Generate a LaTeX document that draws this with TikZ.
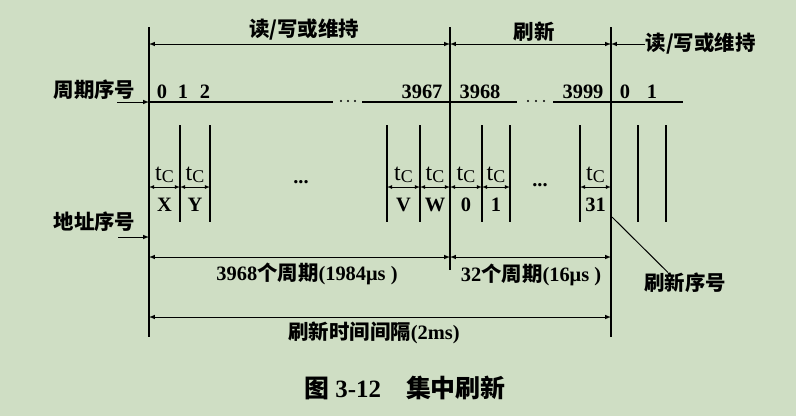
\documentclass[tikz,border=0pt]{standalone}
\usepackage{fontspec}
\setmainfont{Liberation Serif}
\newfontfamily\cjk{Noto Sans CJK SC}
\usetikzlibrary{calc}
\definecolor{paper}{RGB}{207,222,196}

\begin{document}
\begin{tikzpicture}[x=1bp,y=-1bp,line width=1.3pt,
        span/.style={line width=1pt,-latex},
        both/.style={line width=1pt,latex-latex},
        lbl/.style={font=\fontsize{20.5}{20.5}\selectfont\bfseries\cjk,inner sep=0pt},
        num/.style={font=\fontsize{20.5}{20.5}\selectfont\bfseries,inner sep=0pt},
        tclbl/.style={font=\fontsize{24}{24}\selectfont,inner sep=0pt}]
            \fill[paper] (0,0) rectangle (796,416);
            \useasboundingbox (0,0) rectangle (796,416);

            % main time marks
            \coordinate (m0) at (149,27);
            \coordinate (m1) at (450,27);
            \coordinate (m2) at (611,27);
            \draw (m0) -- ++(0,310);
            \draw (m1) -- ++(0,243);
            \draw (m2) -- ++(0,310);

            % top spans
            \node[lbl] (rw1) at (304,30) {读/写或维持};
            \node[lbl] (rf) at (534,32) {刷新};
            \node[lbl,anchor=west] (rw2) at (645,44) {读/写或维持};
            \draw[both] ($(m0)+(0,17)$) -- ($(m1)+(0,17)$);
            \draw[both] ($(m1)+(0,17)$) -- ($(m2)+(0,17)$);
            \draw[span] (rw2.west) -- (rw2.west -| m2);

            % cycle numbers
            \node[lbl,anchor=east] (cyc) at (136,90) {周期序号};
            \coordinate (s0) at (117,102);
            \draw[span] (s0) -- (s0 -| m0);
            \draw (s0 -| m0) -- (333,102);
            \draw (362,102) -- (517,102);
            \draw (553,102) -- (683,102);
            \foreach \x in {341,348,355,528,536,544} \fill (\x,101) circle (1.1pt);
            \foreach \x/\t [count=\i] in {162/0,183/1,205/2,422/3967,480/3968,583/3999,625/0,652/1}
                \node[num,anchor=base] (cn\i) at (\x,98) {\t};

            % cycle slots
            \foreach \x in {180,210,387,420,482,510,580,638,666}
                \draw (\x,125) -- (\x,222);
            \foreach \a/\b/\s [count=\i] in {149/180/X,180/210/Y,387/420/V,420/450/W,450/482/0,482/510/1,580/611/31} {
                \coordinate (cl\i) at (\a,187);
                \coordinate (cr\i) at (\b,187);
                \draw[both,line width=0.8pt] (cl\i) -- (cr\i);
                \node[tclbl,anchor=base] (tc\i) at ($(cl\i)!0.5!(cr\i)+(0,-7)$) {t\raisebox{-2.5pt}{\fontsize{18}{18}\selectfont C}};
                \node[num] (ad\i) at ($(cl\i)!0.5!(cr\i)+(0,18)$) {\s};
            }
            \node[num] (dots1) at (301,182) {...};
            \node[num] (dots2) at (540,185) {...};

            % address
            \node[lbl,anchor=east] (addr) at (136,222) {地址序号};
            \coordinate (a0) at (118,237);
            \draw[span] (a0) -- (a0 -| m0);

            % refresh number
            \node[lbl] (rfno) at (685,283) {刷新序号};
            \coordinate (lead) at (612,217);
            \draw[line width=1pt] (lead) -- ([xshift=-17bp]rfno.north);

            % bottom spans
            \coordinate (b1) at (0,257);
            \coordinate (b2) at (0,317);
            \draw[both] (m0 |- b1) -- (m1 |- b1);
            \draw[both] (m1 |- b1) -- (m2 |- b1);
            \draw[both] (m0 |- b2) -- (m2 |- b2);
            \node[num] (p3968) at (307,274) {3968{\cjk 个周期}(1984μs )};
            \node[num] (p32) at (531,275) {32{\cjk 个周期}(16μs )};
            \node[num] (ptot) at (374,333) {{\cjk 刷新时间间隔}(2ms)};

            % caption
            \node[font=\fontsize{25}{25}\selectfont\bfseries,inner sep=0pt] (cap) at (405,388) {{\cjk 图} 3-12\quad{\cjk 集中刷新}};
        \end{tikzpicture}
\end{document}
